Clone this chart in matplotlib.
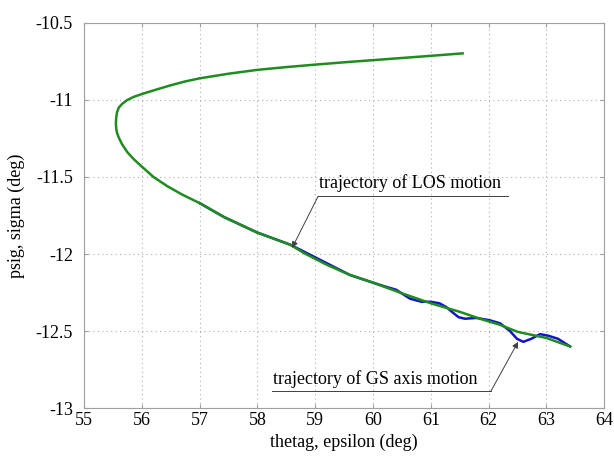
import matplotlib
matplotlib.use('Agg')
import matplotlib.pyplot as plt
from matplotlib.lines import Line2D

plt.rcParams['font.family'] = ['Liberation Serif', 'DejaVu Serif']
plt.rcParams['axes.unicode_minus'] = False

# LOS trajectory (green)
green_x = [61.55, 61.0, 60.5, 60.0, 59.5, 59.0, 58.5, 58.0, 57.5, 57.0, 56.75, 56.5, 56.24,
           56.0, 55.86, 55.75, 55.66, 55.6, 55.57, 55.555, 55.55, 55.555, 55.57, 55.6, 55.66,
           55.75, 55.86, 55.99, 56.2, 56.44, 56.7, 57.0, 57.42, 57.99, 58.57, 58.81, 59.2,
           59.6, 60.0, 60.5, 61.0, 61.5, 61.85, 62.2, 62.5, 63.0, 63.41]
green_y = [-10.698, -10.714, -10.728, -10.742, -10.756, -10.771, -10.787, -10.805, -10.83,
           -10.86, -10.88, -10.905, -10.934, -10.962, -10.98, -11.0, -11.025, -11.05, -11.08,
           -11.115, -11.15, -11.185, -11.215, -11.245, -11.29, -11.34, -11.385, -11.43, -11.50,
           -11.56, -11.615, -11.67, -11.76, -11.86, -11.94, -11.995, -12.07, -12.136, -12.186,
           -12.255, -12.32, -12.375, -12.42, -12.46, -12.505, -12.545, -12.60]

# GS axis trajectory (blue)
blue_x = [57.0, 57.42, 57.99, 58.57, 59.6, 60.0, 60.2, 60.4, 60.64, 60.84, 61.0, 61.15, 61.27,
          61.38, 61.48, 61.59, 61.79, 62.02, 62.2, 62.37, 62.49, 62.6, 62.74, 62.89, 63.03,
          63.2, 63.41]
blue_y = [-11.67, -11.76, -11.86, -11.94, -12.136, -12.186, -12.21, -12.232, -12.29, -12.31,
          -12.31, -12.32, -12.345, -12.38, -12.41, -12.42, -12.415, -12.43, -12.45, -12.50,
          -12.55, -12.57, -12.55, -12.52, -12.53, -12.55, -12.60]

x_ticks = [55, 56, 57, 58, 59, 60, 61, 62, 63, 64]
y_ticks = [-13, -12.5, -12, -11.5, -11, -10.5]
y_tick_labels = ['-13', '-12.5', '-12', '-11.5', '-11', '-10.5']

fig = plt.figure(figsize=(6.14, 4.57), dpi=100)
ax = fig.add_axes([0.137, 0.107, 0.847, 0.843])

ax.plot(blue_x, blue_y, color='#1414c8', lw=1.8, solid_joinstyle='round')
ax.plot(green_x, green_y, color='#1e8c1e', lw=1.8, solid_joinstyle='round')

ax.set_xlim(55, 64)
ax.set_ylim(-13, -10.5)
ax.set_xticks(x_ticks)
ax.set_xticklabels([str(t) for t in x_ticks])
ax.set_yticks(y_ticks)
ax.set_yticklabels(y_tick_labels)
ax.grid(True, linestyle=(0, (1, 3)), color='#b0b0b0', lw=0.8)
for s in ax.spines.values():
    s.set_color('#a0a0a0')
ax.tick_params(direction='in', top=True, right=True, color='#a0a0a0', labelsize=13,
               length=3)
ax.tick_params(axis='x', pad=3)
ax.tick_params(axis='y', pad=8)

ax.set_xlabel('thetag, epsilon (deg)', fontsize=13, labelpad=3)
ax.set_ylabel('psig, sigma (deg)', fontsize=13, labelpad=8)

# annotations
arr = dict(arrowstyle='-|>', color='#404040', lw=0.7, mutation_scale=9, shrinkA=0, shrinkB=0)
ax.annotate('', xy=(58.6, -11.96), xytext=(59.05, -11.625), arrowprops=arr)
ax.add_line(Line2D([59.05, 62.34], [-11.625, -11.625], color='#404040', lw=0.7))
ax.text(59.07, -11.60, 'trajectory of LOS motion', fontsize=13, va='bottom', ha='left')

ax.annotate('', xy=(62.51, -12.57), xytext=(62.04, -12.89), arrowprops=arr)
ax.add_line(Line2D([58.25, 62.04], [-12.89, -12.89], color='#404040', lw=0.7))
ax.text(58.27, -12.87, 'trajectory of GS axis motion', fontsize=13, va='bottom', ha='left')

fig.savefig('out.png', dpi=100)
